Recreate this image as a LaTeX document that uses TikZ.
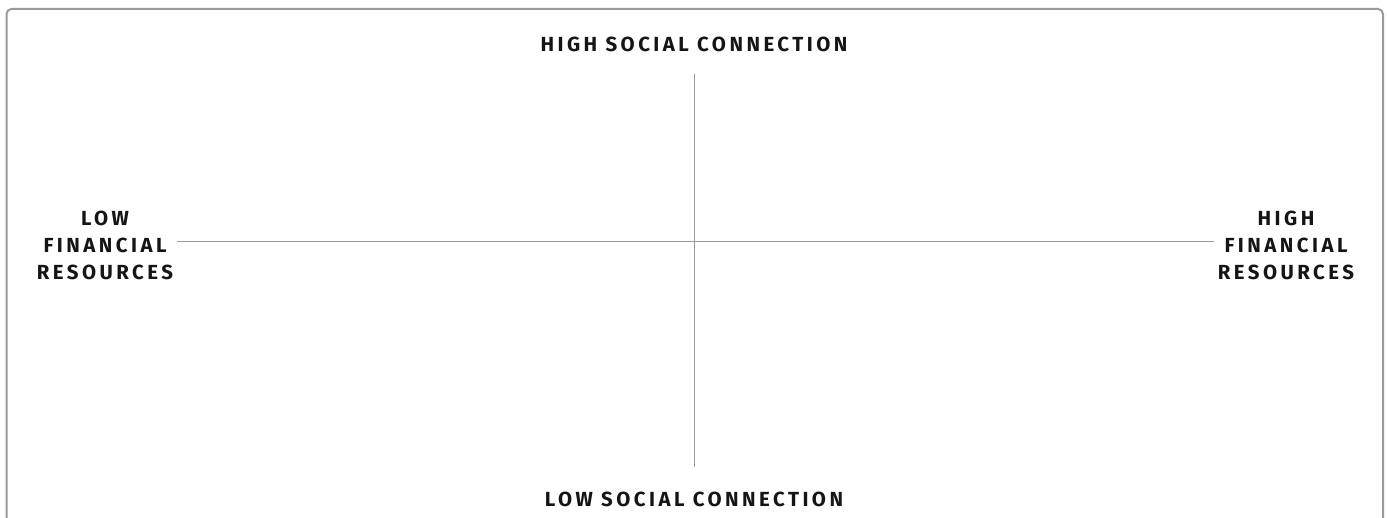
\documentclass[tikz,border=0pt]{standalone}
\usepackage{fontspec}
\usepackage{tikz}
\usetikzlibrary{calc}
\usetikzlibrary{positioning}
\newfontfamily\axisfont[LetterSpace=17]{Fira Sans}
\definecolor{axisgray}{HTML}{9A9A9A}
\definecolor{labelink}{HTML}{151515}
\tikzset{
  axislabel/.style={font=\axisfont\bfseries\fontsize{10.2}{13.5}\selectfont, text=labelink, align=center, inner sep=5pt},
  axisline/.style={draw=axisgray, line width=0.5pt}
}

\begin{document}
\begin{tikzpicture}[x=0.5pt,y=-0.5pt]
    \useasboundingbox (0,0) rectangle (1387,518);
    \begin{scope}
      \clip (0,0) rectangle (1387,518);
      \draw[axisgray, line width=1pt, rounded corners=2.5pt] (6.5,9) rectangle (1383,540);
    \end{scope}

    \node[axislabel] (highsocial) at (694,44) {HIGH SOCIAL CONNECTION};
    \node[axislabel] (lowsocial) at (694,499) {LOW SOCIAL CONNECTION};
    \node[axislabel, inner xsep=2pt] (lowfin) at (105,245) {LOW\\FINANCIAL\\RESOURCES};
    \node[axislabel, inner xsep=2pt] (highfin) at (1286,245) {HIGH\\FINANCIAL\\RESOURCES};

    \draw[axisline, shorten <=6pt, shorten >=7pt] (highsocial.south) -- (lowsocial.north);
    \draw[axisline] (lowfin.east |- 0,242) -- (highfin.west |- 0,242);

\end{tikzpicture}
\end{document}
